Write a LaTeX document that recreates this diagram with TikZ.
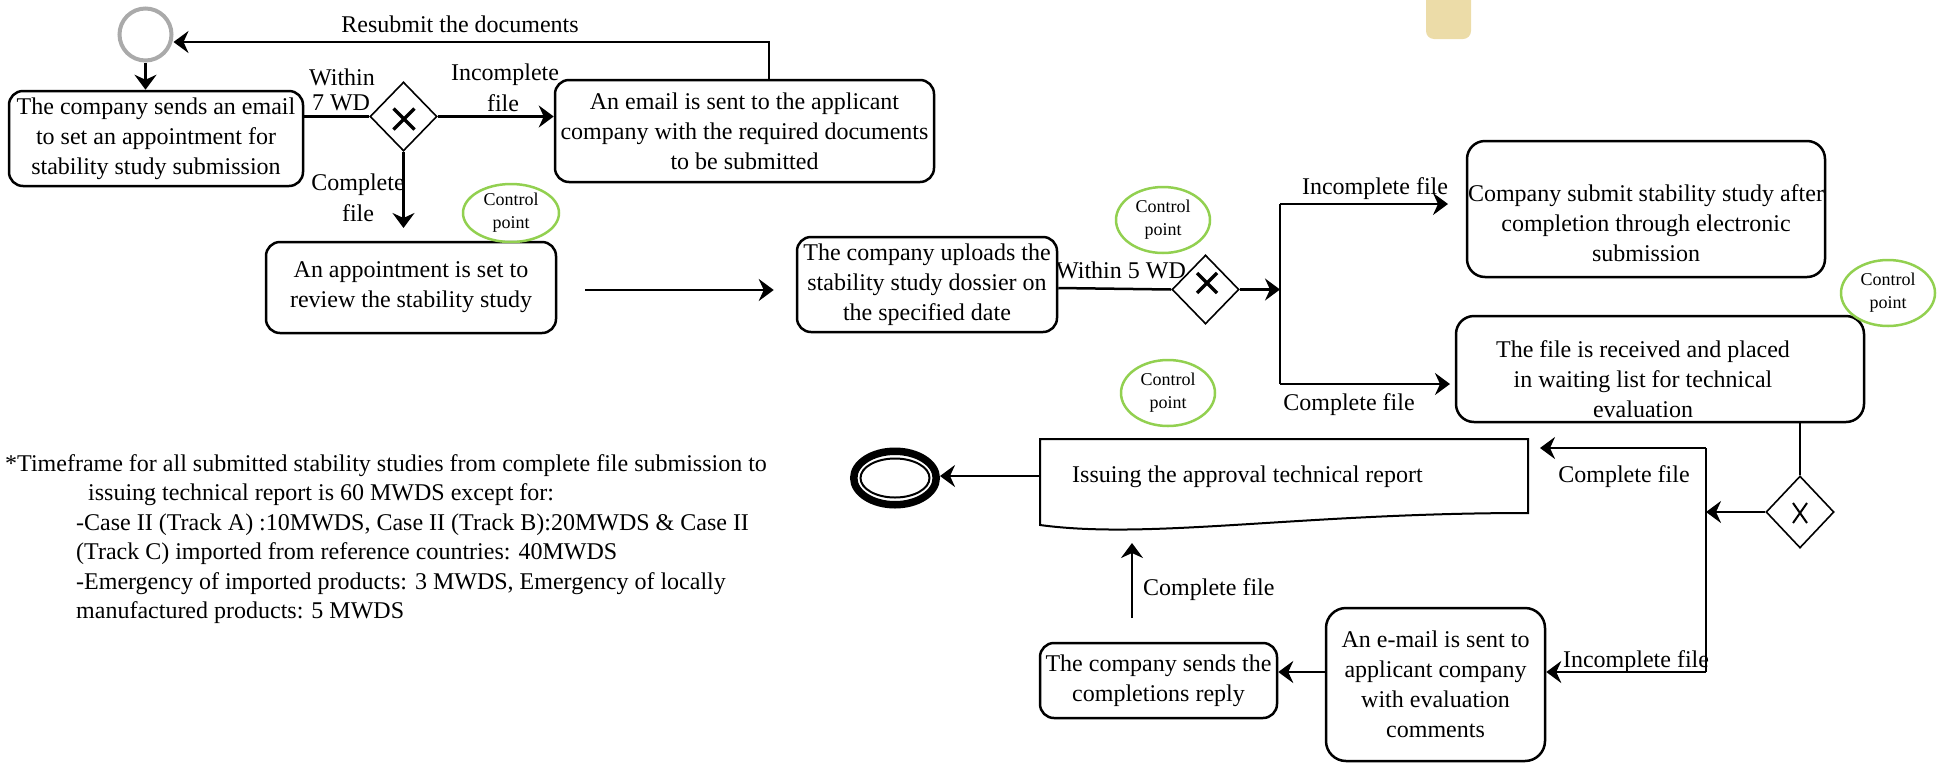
\documentclass[tikz,border=0pt]{standalone}
\usepackage{fontspec}
\setmainfont{Liberation Serif}
\usetikzlibrary{shapes.geometric,arrows.meta,calc}
\definecolor{cpgreen}{RGB}{146,208,80}
\definecolor{startgray}{RGB}{170,170,170}
\definecolor{tabtan}{RGB}{236,220,168}
\begin{document}
\begin{tikzpicture}[x=1pt,y=-1pt,
  box/.style={draw, line width=2.5pt, rounded corners=14pt, align=center, inner sep=0pt, font=\fontsize{24}{30}\selectfont},
  txt/.style={align=center, inner sep=0pt, font=\fontsize{24}{30}\selectfont},
  lbl/.style={inner sep=0pt, font=\fontsize{24}{30}\selectfont},
  gate/.style={draw, diamond, line width=1.6pt, inner sep=0pt, minimum width=67pt, minimum height=69pt},
  cpoint/.style={draw=cpgreen, ellipse, line width=2.5pt, inner sep=0pt, align=center, font=\fontsize{18}{23}\selectfont},
  conn/.style={line width=2.5pt},
  arr/.style={line width=2.5pt, -{Stealth[length=15pt,width=22pt,inset=5pt]}},
  xmark/.style={line width=3.5pt},
]
\useasboundingbox (0,0) rectangle (1944,764);

% tab at the top
\fill[tabtan, rounded corners=8pt] (1426,-20) rectangle (1471,39);

% events
\node[circle, draw=startgray, line width=4pt, minimum size=52pt, inner sep=0pt] (start) at (145.5,34.5) {};
\node[ellipse, draw, line width=7.5pt, minimum width=82.5pt, minimum height=53.5pt, inner sep=0pt] (end) at (895,478) {};
\draw[line width=2pt] (end.center) ellipse [x radius=34.5, y radius=19.5];

% boxes
\node[box, minimum width=294pt, minimum height=95pt] (b1) at (156,138.5) {The company sends an email\\to set an appointment for\\stability study submission};
\node[box, minimum width=379pt, minimum height=102pt] (b2) at (744.5,131) {An email is sent to the applicant\\company with the required documents\\to be submitted};
\node[box, minimum width=290pt, minimum height=91pt] (b3) at (411,287.5) {An appointment is set to\\review the stability study};
\node[box, minimum width=260pt, minimum height=95pt] (b4) at (927,284.5) {The company uploads the\\stability study dossier on\\the specified date};
\node[box, rounded corners=18pt, minimum width=358pt, minimum height=136pt] (b5) at (1646,209) {};
\node[txt] (t5) at (1646,223) {Company submit stability study after\\completion through electronic\\submission};
\node[box, rounded corners=18pt, minimum width=408pt, minimum height=106pt] (b6) at (1660,369) {};
\node[txt] (t6) at (1643,379) {The file is received and placed\\in waiting list for technical\\evaluation};
\node[box, rounded corners=20pt, minimum width=219pt, minimum height=153pt] (b8) at (1435.5,684.5) {An e-mail is sent to\\applicant company\\with evaluation\\comments};
\node[box, minimum width=237pt, minimum height=75pt] (b9) at (1158.5,680.5) {The company sends the\\completions reply};

% document shape
\draw[line width=2pt] (1040,439) -- (1528,439) -- (1528,513) .. controls (1300,513) and (1150,540) .. (1040,525) -- cycle;
\coordinate (docL) at (1040,476);
\node[lbl, anchor=west] (t7) at (1072,477) {Issuing the approval technical report};

% gateways
\node[gate] (d1) at (403.5,116.5) {};
\node[gate, minimum width=67pt, minimum height=69pt] (d2) at (1205.5,289.5) {};
\node[gate, minimum width=68pt, minimum height=72pt] (d3) at (1800,512) {};
\begin{scope}[shift={(d1.center)}]
  \draw[xmark] (-10,-8) -- (11,13) (-10,13) -- (11,-8);
\end{scope}
\begin{scope}[shift={(d2.center)}]
  \draw[xmark] (-8.5,-16.5) -- (11.5,3.5) (-8.5,3.5) -- (11.5,-16.5);
\end{scope}
\begin{scope}[shift={(d3.center)}]
  \draw[line width=2pt] (-7,-9) -- (7,11) (-7,11) -- (7,-9);
\end{scope}

% control points
\node[cpoint, minimum width=96pt, minimum height=58pt] (cp1) at (511,213) {Control\\point};
\node[cpoint, minimum width=94pt, minimum height=66pt] (cp2) at (1163,220) {Control\\point};
\node[cpoint, minimum width=94pt, minimum height=66pt] (cp3) at (1888,293) {Control\\point};
\node[cpoint, minimum width=94pt, minimum height=66pt] (cp4) at (1168,393) {Control\\point};

% connectors
\draw[arr] (start.south) -- (start.south |- b1.north);
\draw[conn] (d1.west -| b1.east) -- (d1.west);
\draw[arr] (d1.east) -- (d1.east -| b2.west);
\coordinate (rs) at (769,42);
\draw[arr] (rs |- b2.north) -- (rs) -- (start.east |- rs);
\coordinate (c1) at (403.5,228);
\draw[arr] (d1.south) -- (c1);
\coordinate (ar) at (0,290);
\draw[arr, shorten <=28pt, shorten >=22pt] (b3.east |- ar) -- (b4.west |- ar);
\coordinate (y288) at (0,288);
\draw[conn] (b4.east |- y288) -- (d2.west);
\coordinate (v1) at (1280,204);
\coordinate (v2) at (1280,384);
\coordinate (v1e) at (1448,204);
\coordinate (v2e) at (1450,384);
\draw[arr] (d2.east) -- (d2.east -| v1);
\draw[conn] (v1) -- (v2);
\draw[arr] (v1) -- (v1e);
\draw[arr] (v2) -- (v2e);
\draw[conn] (b6.south -| d3.north) -- (d3.north);
\coordinate (w1) at (1706,448);
\coordinate (w2) at (1706,672);
\coordinate (w1e) at (1540,448);
\draw[arr] (d3.west) -- (d3.west -| w1);
\draw[conn] (w1) -- (w2);
\draw[arr] (w1) -- (w1e);
\draw[arr] (w2) -- (w2 -| b8.east);
\draw[arr] (b8.west |- w2) -- (w2 -| b9.east);
\coordinate (u1) at (1132,618);
\coordinate (u2) at (1132,543);
\draw[arr] (u1) -- (u2);
\draw[arr] (docL) -- (docL -| end.east);

% labels
\node[lbl] (l1) at (460,24) {Resubmit the documents};
\node[lbl] (l2) at (342,77) {Within};
\node[lbl] (l3) at (341,103) {7 WD};
\node[lbl] (l4) at (505,75) {Incomplete};
\node[lbl] (l5) at (503,103) {file};
\node[lbl] (l6) at (358,185) {Complete};
\node[lbl] (l7) at (358,213) {file};
\node[lbl] (l8) at (1121,270) {Within 5 WD};
\node[lbl] (l9) at (1375,189) {Incomplete file};
\node[lbl] (l10) at (1349,405) {Complete file};
\node[lbl] (l11) at (1624,477) {Complete file};
\node[lbl] (l12) at (1636,662) {Incomplete file};
\node[lbl, anchor=west] (l13) at (1143,590) {Complete file};

% note
\node[lbl, anchor=north west, align=left, font=\fontsize{24}{29.5}\selectfont] (note) at (5,454) {*Timeframe for all submitted stability studies from complete file submission to\\\hspace*{83pt}issuing technical report is 60 MWDS except for:\\\hspace*{71pt}-Case II (Track A) :10MWDS, Case II (Track B):20MWDS \& Case II\\\hspace*{71pt}(Track C) imported from reference countries: 40MWDS\\\hspace*{71pt}-Emergency of imported products: 3 MWDS, Emergency of locally\\\hspace*{71pt}manufactured products: 5 MWDS};
\end{tikzpicture}
\end{document}
